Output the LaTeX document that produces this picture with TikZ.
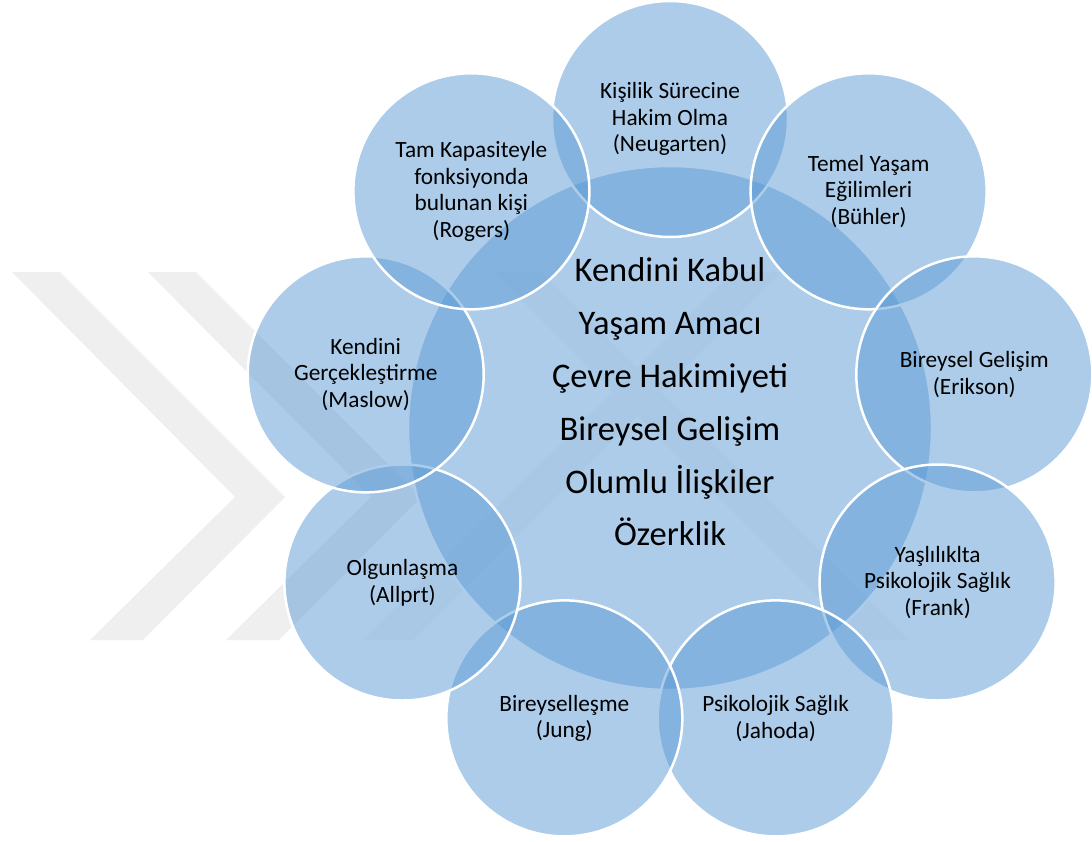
\documentclass[tikz,border=0pt]{standalone}
\usepackage{fontspec}
\setmainfont{Carlito}
\usetikzlibrary{calc}
\definecolor{accent}{HTML}{5B9BD5}
\definecolor{mark}{RGB}{239,239,239}
\definecolor{marklight}{RGB}{247,247,247}
\begin{document}
\begin{tikzpicture}[x=1pt,y=-1pt,
  disc/.style={circle, inner sep=0pt, fill=accent, fill opacity=0.5,
    draw=white, draw opacity=1, line width=2.5pt, text opacity=1},
  bubble/.style={disc, minimum size=236pt, align=center, text=black,
    font=\fontsize{23.3pt}{26.7pt}\selectfont},
  hubtext/.style={align=center, text=black, inner sep=0pt,
    font=\fontsize{34.5pt}{52.8pt}\selectfont},
  chevron/.style={fill=mark},
  band/.style={fill=marklight}]
\useasboundingbox (0,0) rectangle (1092,841);
\fill[white] (0,0) rectangle (1092,841);

% background mark: two chevrons and a pair of crossing bands
\foreach \d in {0,136}{
  \fill[chevron] (12+\d,272) -- (60+\d,272) -- (285+\d,497) -- (143+\d,640)
    -- (90+\d,640) -- (235+\d,497) -- cycle;
}
\fill[band] (363,640) -- (413,640) -- (781,272) -- (733,272) -- cycle;
\fill[band] (493,272) -- (541,272) -- (909,640) -- (861,640) -- cycle;

% central circle
\node[disc, minimum size=524pt] (hub) at (670,428) {};
\node[hubtext] (hublines) at (670,402)
  {Kendini Kabul\\Yaşam Amacı\\Çevre Hakimiyeti\\Bireysel Gelişim\\Olumlu İlişkiler\\Özerklik};

% outer circles, every 40 degrees around the hub, clockwise from the top
\node[bubble] (neugarten) at ($(hub.center)+(90:309pt)$)
  {Kişilik Sürecine\\Hakim Olma\\(Neugarten)};
\node[bubble] (buhler) at ($(hub.center)+(50:309pt)$)
  {Temel Yaşam\\Eğilimleri\\(Bühler)};
\node[bubble] (erikson) at ($(hub.center)+(10:309pt)$)
  {Bireysel Gelişim\\(Erikson)};
\node[bubble] (frank) at ($(hub.center)+(-30:309pt)$)
  {Yaşlılıklta\\Psikolojik Sağlık\\(Frank)};
\node[bubble] (jahoda) at ($(hub.center)+(-70:309pt)$)
  {Psikolojik Sağlık\\(Jahoda)};
\node[bubble] (jung) at ($(hub.center)+(-110:309pt)$)
  {Bireyselleşme\\(Jung)};
\node[bubble] (allport) at ($(hub.center)+(-150:309pt)$)
  {Olgunlaşma\\(Allprt)};
\node[bubble] (maslow) at ($(hub.center)+(170:309pt)$)
  {Kendini\\Gerçekleştirme\\(Maslow)};
\node[bubble] (rogers) at ($(hub.center)+(130:309pt)$)
  {Tam Kapasiteyle\\fonksiyonda\\bulunan kişi\\(Rogers)};
\end{tikzpicture}
\end{document}
